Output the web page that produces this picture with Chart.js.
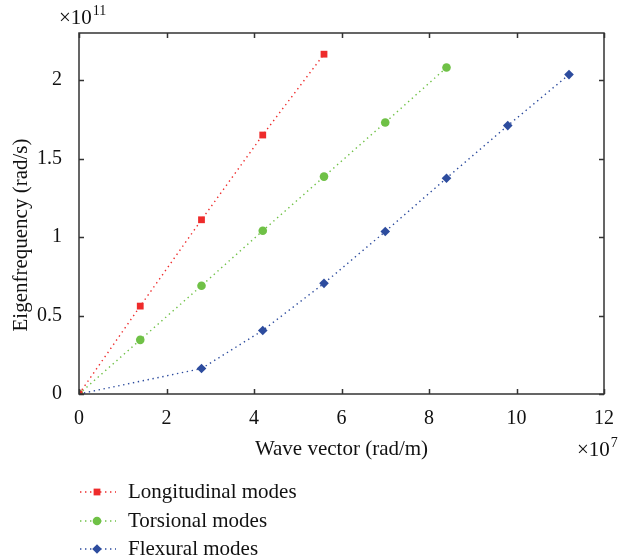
<!DOCTYPE html>
<html>
<head>
<meta charset="utf-8">
<script src="https://cdn.jsdelivr.net/npm/chart.js@4.4.1/dist/chart.umd.min.js"></script>
<style>
  html, body { margin: 0; padding: 0; background: #fff; }
  #wrap { width: 619px; height: 560px; }
</style>
</head>
<body>
<div id="wrap"><canvas id="chart"></canvas></div>
<script>
// wave vector in units of 1e7 rad/m, eigenfrequency in units of 1e11 rad/s
var longX = [0, 1.4, 2.8, 4.2, 5.6];
var longY = [0, 0.56, 1.11, 1.65, 2.165];
var torsX = [0, 1.4, 2.8, 4.2, 5.6, 7.0, 8.4];
var torsY = [0, 0.345, 0.69, 1.04, 1.385, 1.73, 2.08];
var flexX = [0, 2.8, 4.2, 5.6, 7.0, 8.4, 9.8, 11.2];
var flexY = [0, 0.162, 0.405, 0.705, 1.035, 1.375, 1.71, 2.035];
var seriesNames = ["Longitudinal modes", "Torsional modes", "Flexural modes"];
var xTicks = [0, 2, 4, 6, 8, 10, 12];
var yTicks = [0, 0.5, 1, 1.5, 2];

var FONT = "'Liberation Serif', 'DejaVu Serif', serif";

function pts(xs, ys) {
    return xs.map(function (x, i) { return { x: x, y: ys[i] }; });
}

var styles = [
    { color: "#ee2b2b", pointStyle: "rect", radius: 4.8 },
    { color: "#6fc146", pointStyle: "circle", radius: 4.3 },
    { color: "#2d4c9e", pointStyle: "rectRot", radius: 4.8 }
];
var allData = [pts(longX, longY), pts(torsX, torsY), pts(flexX, flexY)];

var datasets = allData.map(function (d, i) {
    var s = styles[i];
    return {
        label: seriesNames[i],
        data: d,
        showLine: true,
        borderColor: s.color,
        backgroundColor: s.color,
        borderWidth: 1.4,
        borderDash: [1.4, 3.6],
        pointStyle: s.pointStyle,
        pointRadius: s.radius,
        pointHoverRadius: s.radius,
        pointBorderWidth: 0
    };
});

function expLabel(ctx, base, exp, x, y) {
    ctx.font = "21px " + FONT;
    ctx.fillText(base, x, y);
    var w = ctx.measureText(base).width;
    ctx.font = "14px " + FONT;
    ctx.fillText(exp, x + w + 1, y - 9);
}

// frame, inward ticks, exponents, y title and legend
var decorPlugin = {
    id: "decor",
    afterDraw: function (chart) {
        var ctx = chart.ctx;
        var a = chart.chartArea;
        var xs = chart.scales.x, ys = chart.scales.y;
        var tl = 5;
        ctx.save();
        ctx.strokeStyle = "#333";
        ctx.lineWidth = 1.5;
        ctx.strokeRect(a.left, a.top, a.right - a.left, a.bottom - a.top);
        ctx.beginPath();
        xTicks.forEach(function (v) {
            var px = Math.round(xs.getPixelForValue(v)) + 0.5;
            ctx.moveTo(px, a.bottom); ctx.lineTo(px, a.bottom - tl);
            ctx.moveTo(px, a.top); ctx.lineTo(px, a.top + tl);
        });
        yTicks.forEach(function (v) {
            var py = Math.round(ys.getPixelForValue(v)) + 0.5;
            ctx.moveTo(a.left, py); ctx.lineTo(a.left + tl, py);
            ctx.moveTo(a.right, py); ctx.lineTo(a.right - tl, py);
        });
        ctx.stroke();

        // exponents
        ctx.fillStyle = "#111";
        ctx.textBaseline = "alphabetic";
        ctx.textAlign = "left";
        expLabel(ctx, "\u00d710", "11", 59, 24);
        expLabel(ctx, "\u00d710", "7", 577, 456);

        // y title
        ctx.save();
        ctx.translate(21, 235);
        ctx.rotate(-Math.PI / 2);
        ctx.textAlign = "center";
        ctx.textBaseline = "middle";
        ctx.font = "21px " + FONT;
        ctx.fillText("Eigenfrequency (rad/s)", 0, 0);
        ctx.restore();

        // legend
        var rows = [492, 521, 549];
        chart.data.datasets.forEach(function (ds, i) {
            var y = rows[i];
            ctx.save();
            ctx.strokeStyle = ds.borderColor;
            ctx.lineWidth = ds.borderWidth;
            ctx.setLineDash(ds.borderDash);
            ctx.beginPath();
            ctx.moveTo(80, y); ctx.lineTo(116, y);
            ctx.stroke();
            ctx.restore();
            ctx.fillStyle = ds.backgroundColor;
            Chart.helpers.drawPoint(ctx, {
                pointStyle: ds.pointStyle,
                radius: ds.pointRadius,
                borderWidth: 0
            }, 97, y);
            ctx.fillStyle = "#111";
            ctx.font = "21px " + FONT;
            ctx.textAlign = "left";
            ctx.textBaseline = "middle";
            ctx.fillText(ds.label, 128, y);
        });
        ctx.restore();
    }
};

new Chart("chart", {
    type: "scatter",
    data: { datasets: datasets },
    plugins: [decorPlugin],
    options: {
        responsive: true,
        maintainAspectRatio: false,
        animation: false,
        events: [],
        layout: { padding: { top: 33, right: 13, left: 0, bottom: 96 } },
        plugins: {
            legend: { display: false },
            tooltip: { enabled: false }
        },
        scales: {
            x: {
                type: "linear",
                min: 0,
                max: 12,
                afterFit: function (s) { s.height = 70; },
                afterBuildTicks: function (s) {
                    s.ticks = xTicks.map(function (v) { return { value: v }; });
                },
                grid: { display: false },
                border: { display: false },
                ticks: {
                    padding: 5,
                    color: "#111",
                    font: { family: FONT, size: 20 },
                    callback: function (v) { return String(v); }
                },
                title: {
                    display: true,
                    text: "Wave vector (rad/m)",
                    color: "#111",
                    font: { family: FONT, size: 21 },
                    padding: { top: 4, bottom: 2 }
                }
            },
            y: {
                type: "linear",
                min: 0,
                max: 2.3,
                afterFit: function (s) { s.width = 79; },
                afterBuildTicks: function (s) {
                    s.ticks = yTicks.map(function (v) { return { value: v }; });
                },
                grid: { display: false },
                border: { display: false },
                ticks: {
                    padding: 9,
                    color: "#111",
                    font: { family: FONT, size: 20 },
                    callback: function (v) { return String(v); }
                }
            }
        }
    }
});
</script>
</body>
</html>
